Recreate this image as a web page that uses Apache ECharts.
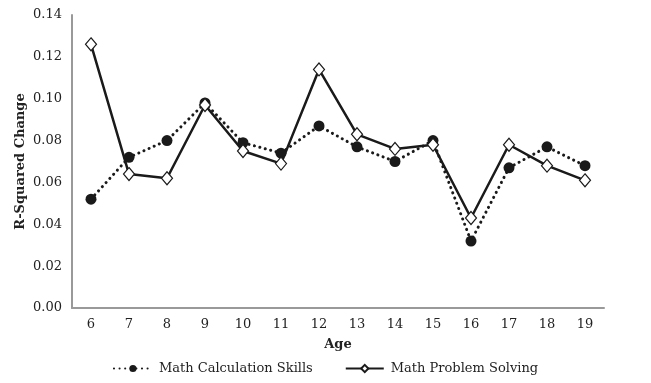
<!DOCTYPE html>
<html><head><meta charset="utf-8">
<script src="https://cdn.jsdelivr.net/npm/echarts@6/dist/echarts.min.js"></script>
<style>html,body{margin:0;padding:0;background:#fff}#c{width:651px;height:383px}</style>
</head><body><div id="c"></div>
<script>
const ages = ['6','7','8','9','10','11','12','13','14','15','16','17','18','19'];
const calcSkills = [0.052,0.072,0.080,0.098,0.079,0.074,0.087,0.077,0.070,0.080,0.032,0.067,0.077,0.068];
const problemSolving = [0.126,0.064,0.062,0.097,0.075,0.069,0.114,0.083,0.076,0.078,0.043,0.078,0.068,0.061];
const yTicks = {min:0, max:0.14, interval:0.02};
const FONT = 'DejaVu Serif';
const chart = echarts.init(document.getElementById('c'));
chart.setOption({
  animation:false,
  grid:{left:72,right:47,top:15,bottom:75},
  legend:{
    top:357, left:'center', itemWidth:38, itemHeight:9, itemGap:32,
    textStyle:{fontFamily:FONT,fontSize:13,color:'#222',padding:[0,0,0,2]},
    data:['Math Calculation Skills','Math Problem Solving']
  },
  xAxis:{
    type:'category', data:ages, boundaryGap:true,
    name:'Age', nameLocation:'middle', nameGap:30,
    nameTextStyle:{fontFamily:FONT,fontSize:13,fontWeight:'bold',color:'#222'},
    axisLine:{lineStyle:{color:'#999',width:2}},
    axisTick:{show:false},
    axisLabel:{fontFamily:FONT,fontSize:13,color:'#222',margin:10}
  },
  yAxis:{
    type:'value', min:yTicks.min, max:yTicks.max, interval:yTicks.interval,
    name:'R-Squared Change', nameLocation:'middle', nameGap:45, nameMoveOverlap:false,
    nameTextStyle:{fontFamily:FONT,fontSize:13,fontWeight:'bold',color:'#222'},
    axisLine:{show:true,lineStyle:{color:'#999',width:2}},
    axisTick:{show:false},
    splitLine:{show:false},
    axisLabel:{fontFamily:FONT,fontSize:13,color:'#222',margin:10,formatter:v=>v.toFixed(2)}
  },
  series:[
    {name:'Math Calculation Skills',type:'line',data:calcSkills,
     symbol:'circle',symbolSize:11,
     lineStyle:{color:'#1a1a1a',width:3,type:[0.1,5.5],cap:'round'},
     itemStyle:{color:'#1a1a1a',borderColor:'#1a1a1a',borderWidth:0}},
    {name:'Math Problem Solving',type:'line',data:problemSolving,
     symbol:'diamond',symbolSize:[11,13],
     lineStyle:{color:'#1a1a1a',width:2.5},
     itemStyle:{color:'#fff',borderColor:'#1a1a1a',borderWidth:1.2}}
  ]
});
</script></body></html>
